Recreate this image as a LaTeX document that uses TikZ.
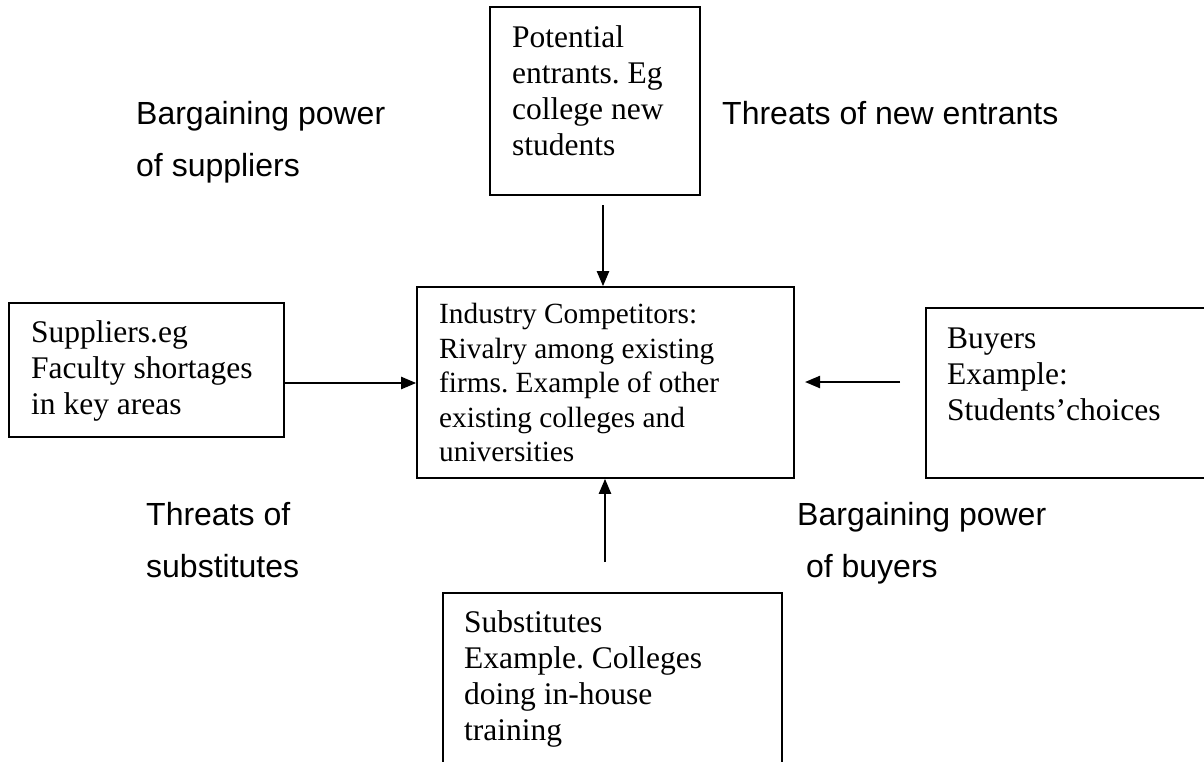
\documentclass[tikz,border=0pt]{standalone}
\usepackage{fontspec}
\setmainfont{Liberation Serif}
\newfontfamily\arialfont{Liberation Sans}
\usetikzlibrary{arrows.meta,calc}
\tikzset{
  boxshape/.style={draw=black, line width=1.6pt, rectangle, inner sep=0pt},
  boxtext/.style={anchor=north west, inner sep=0pt, align=left, font={\frenchspacing\fontsize{31.5}{36}\selectfont}},
  smalltext/.style={boxtext, font={\frenchspacing\fontsize{29.3}{34.5}\selectfont}},
  lbl/.style={anchor=north west, inner sep=0pt, align=left, font={\arialfont\fontsize{32}{52}\selectfont}},
  arr/.style={line width=2.2pt, -{Triangle[length=15pt,width=12pt]}},
}
\begin{document}
\begin{tikzpicture}[x=1pt,y=-1pt]
\useasboundingbox (0,0) rectangle (1204,761);
% boxes
\node[boxshape, minimum width=210pt, minimum height=188pt] (topbox) at (595,101) {};
\node[boxshape, minimum width=275pt, minimum height=134pt] (leftbox) at (146.5,370) {};
\node[boxshape, minimum width=377pt, minimum height=191pt] (center) at (605.5,382.5) {};
\node[boxshape, minimum width=289pt, minimum height=170pt] (rightbox) at (1070.5,393) {};
\node[boxshape, minimum width=339pt, minimum height=177pt] (botbox) at (612.5,681.5) {};
% box texts
\node[boxtext] (toptext) at (512,25.5) {Potential\\entrants. Eg\\college new\\students};
\node[boxtext] (lefttext) at (31,320.5) {Suppliers.eg\\Faculty shortages\\in key areas};
\node[smalltext] (centertext) at (439,303) {Industry Competitors:\\Rivalry among existing\\firms. Example of other\\existing colleges and\\universities};
\node[boxtext] (righttext) at (947,328) {Buyers\\Example:\\Students'choices};
\node[boxtext] (bottext) at (464,610.5) {Substitutes\\Example. Colleges\\doing in-house\\training};
% labels
\node[lbl] (l1) at (136,101) {Bargaining power\\of suppliers};
\node[lbl] (l2) at (722,101) {Threats of new entrants};
\node[lbl] (l3) at (146,502) {Threats of\\substitutes};
\node[lbl] (l4) at (797,502) {Bargaining power\\\ of buyers};
% connectors
\coordinate (ta) at (603,205);
\draw[arr] (ta) -- (ta |- center.north);
\coordinate (la) at (leftbox.east |- 0,383);
\draw[arr] (la) -- (la -| center.west);
\coordinate (ra) at (900,382);
\coordinate (rb) at (805,382);
\draw[arr] (ra) -- (rb);
\coordinate (ba) at (605,562);
\draw[arr] (ba) -- (ba |- center.south);
\end{tikzpicture}
\end{document}
